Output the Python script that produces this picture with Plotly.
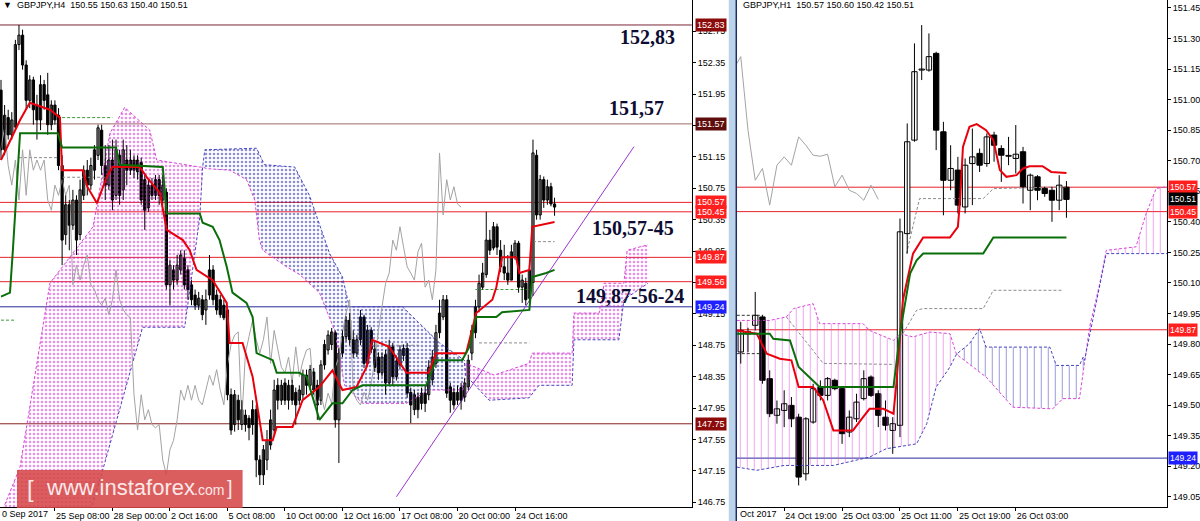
import plotly.graph_objects as go

FONT = "Liberation Sans"
SERIF = "Liberation Serif"
W, H = 1200, 521

# ---------------- H4 panel (left) ----------------
h4_open = [152.00, 151.24, 151.65, 151.43, 151.53, 152.58, 152.70, 152.32, 151.87, 152.13,
           151.81, 151.62, 152.07, 151.94, 151.56, 151.81, 151.68, 151.04, 150.16, 150.54,
           150.28, 150.60, 150.16, 150.66, 150.98, 150.79, 150.98, 151.17, 151.49, 151.04,
           150.79, 151.11, 150.66, 151.17, 150.73, 151.11, 150.98, 151.11, 150.96, 151.08,
           150.86, 150.50, 150.79, 150.66, 150.86, 150.60, 150.70, 149.52, 149.71, 149.58,
           149.71, 149.86, 149.71, 149.52, 149.39, 149.26, 149.33, 149.20, 149.39, 149.71,
           149.39, 149.33, 149.26, 149.20, 148.12, 147.74, 148.05, 147.74, 147.86, 147.82,
           147.93, 147.93, 147.29, 147.10, 147.29, 147.48, 147.67, 148.24, 148.05, 148.27,
           148.05, 148.24, 148.15, 148.05, 148.12, 148.37, 148.24, 148.41, 148.24, 148.05,
           148.50, 148.69, 148.76, 148.91, 147.80, 148.65, 148.86, 149.07, 148.82, 148.65,
           148.82, 149.11, 148.52, 148.94, 148.70, 148.60, 148.40, 148.63, 148.27, 148.73,
           148.35, 148.50, 148.62, 148.71, 148.15, 147.93, 148.09, 148.01, 148.14, 148.12,
           148.31, 148.52, 148.91, 149.11, 149.33, 148.22, 148.15, 148.05, 148.21, 148.09,
           148.22, 148.65, 148.91, 149.24, 149.49, 149.65, 150.09, 149.99, 150.26, 149.96,
           149.75, 149.67, 149.58, 149.88, 150.05, 149.49, 149.54, 149.35, 149.55, 151.17,
           150.41, 150.86, 150.60, 150.77, 150.55]
h4_high = [152.13, 151.81, 151.75, 151.72, 152.64, 152.83, 152.77, 152.38, 152.19, 152.17,
           151.94, 152.19, 152.13, 152.22, 151.87, 151.87, 151.77, 151.17, 150.66, 150.60,
           150.73, 150.66, 150.86, 151.04, 151.11, 151.14, 151.30, 151.56, 151.56, 151.30,
           151.30, 151.37, 151.37, 151.24, 151.37, 151.30, 151.24, 151.17, 151.17, 151.14,
           150.92, 150.86, 150.88, 150.92, 150.92, 150.92, 150.75, 149.84, 149.77, 149.90,
           149.96, 149.96, 149.77, 149.58, 149.46, 149.43, 149.39, 149.46, 149.90, 149.77,
           149.46, 149.39, 149.33, 149.26, 148.20, 148.18, 148.12, 148.05, 147.93, 147.86,
           148.05, 147.99, 147.35, 147.48, 147.67, 147.93, 148.31, 148.33, 148.31, 148.33,
           148.31, 148.31, 148.21, 148.24, 148.44, 148.44, 148.50, 148.46, 148.31, 148.56,
           148.82, 148.94, 148.97, 148.94, 148.72, 148.94, 149.12, 149.16, 148.94, 148.88,
           149.20, 149.14, 149.01, 148.98, 148.80, 148.66, 148.66, 148.69, 148.82, 148.78,
           148.62, 148.75, 148.76, 148.78, 148.21, 148.18, 148.15, 148.21, 148.24, 148.56,
           148.69, 149.01, 149.33, 149.39, 149.39, 148.27, 148.21, 148.24, 148.27, 148.33,
           148.63, 149.01, 149.33, 149.65, 149.80, 150.45, 150.22, 150.32, 150.30, 150.09,
           150.03, 149.90, 150.03, 150.09, 150.08, 149.65, 149.61, 149.77, 151.37, 151.24,
           150.92, 150.90, 150.86, 150.82, 150.63]
h4_low = [151.11, 151.17, 151.37, 151.37, 151.49, 152.51, 152.26, 151.75, 151.77, 151.56,
          151.37, 151.49, 151.75, 151.43, 151.49, 151.56, 150.98, 149.77, 150.03, 149.96,
          150.22, 149.90, 150.09, 150.60, 150.66, 150.73, 150.86, 151.11, 150.92, 150.60,
          150.73, 150.47, 150.60, 150.54, 150.60, 150.79, 150.92, 150.88, 150.86, 150.54,
          150.22, 150.45, 150.60, 150.60, 150.54, 150.54, 149.46, 149.26, 149.46, 149.52,
          149.65, 149.46, 149.33, 149.26, 149.20, 149.20, 149.07, 149.01, 149.33, 149.26,
          149.14, 149.10, 149.07, 148.05, 147.61, 147.65, 147.67, 147.67, 147.65, 147.54,
          147.61, 147.07, 146.97, 146.97, 147.16, 147.42, 147.61, 147.93, 147.99, 147.99,
          147.93, 147.99, 147.74, 147.99, 148.05, 148.12, 148.18, 148.12, 147.80, 147.99,
          148.44, 148.63, 148.69, 147.70, 147.25, 148.60, 148.80, 148.75, 148.59, 148.60,
          148.75, 148.46, 148.48, 148.65, 148.41, 148.31, 148.35, 148.12, 148.24, 148.24,
          148.30, 148.44, 148.55, 148.08, 147.76, 147.86, 147.82, 147.93, 147.90, 148.05,
          148.24, 148.46, 148.84, 149.07, 148.08, 147.89, 147.93, 147.99, 147.93, 148.03,
          148.18, 148.56, 148.84, 149.17, 149.46, 149.61, 149.90, 149.96, 149.90, 149.68,
          149.58, 149.52, 149.58, 149.84, 149.42, 149.29, 149.26, 149.29, 149.38, 150.35,
          150.35, 150.50, 150.54, 150.52, 150.40]
h4_close = [151.24, 151.68, 151.43, 151.62, 152.58, 152.70, 152.32, 151.87, 152.13, 151.75,
            151.62, 152.07, 151.87, 151.56, 151.81, 151.62, 151.04, 150.09, 150.54, 150.28,
            150.60, 150.09, 150.73, 150.98, 150.79, 151.04, 151.24, 151.52, 151.04, 150.79,
            151.11, 150.60, 151.24, 150.66, 151.24, 150.98, 151.11, 150.98, 151.11, 150.60,
            150.47, 150.79, 150.66, 150.86, 150.66, 150.79, 149.52, 149.77, 149.58, 149.77,
            149.90, 149.52, 149.46, 149.33, 149.26, 149.35, 149.14, 149.33, 149.71, 149.33,
            149.20, 149.14, 149.10, 148.12, 147.67, 148.12, 147.80, 147.93, 147.74, 147.70,
            147.74, 147.29, 147.10, 147.42, 147.54, 147.80, 148.18, 148.05, 148.24, 148.05,
            148.24, 148.05, 147.99, 148.18, 148.37, 148.24, 148.44, 148.18, 147.99, 148.50,
            148.76, 148.88, 148.92, 147.80, 148.65, 148.86, 149.07, 148.82, 148.65, 148.82,
            149.11, 148.52, 148.94, 148.70, 148.47, 148.40, 148.60, 148.27, 148.73, 148.35,
            148.55, 148.69, 148.71, 148.14, 147.99, 148.12, 147.93, 148.14, 148.01, 148.47,
            148.60, 148.91, 149.16, 149.33, 148.14, 148.05, 147.99, 148.15, 148.05, 148.27,
            148.56, 148.94, 149.24, 149.54, 149.67, 150.09, 149.96, 150.26, 150.00, 149.75,
            149.67, 149.58, 149.94, 150.05, 149.49, 149.58, 149.33, 149.71, 151.20, 150.41,
            150.86, 150.60, 150.77, 150.55, 150.51]

# Ichimoku lines (bar index, price)
h4_tenkan_x = [0, 5.3, 8, 13.6, 16.4, 17, 22.8, 24, 26.7, 29.4, 31, 38.6, 40.6, 44.2, 46.1, 50.6,
               52.5, 54.4, 58.9, 62.8, 63.6, 67.2, 70, 72.8, 75.6, 76.7, 81.1, 83.9, 88.6, 92.2,
               95, 98.9, 101.7, 103.3, 108, 112.8, 119, 121, 129.4, 130.3, 132.2, 136.7, 137.8,
               139.4, 143.3, 144.2, 147, 147.8, 152.5, 154]
h4_tenkan_y = [151.11, 151.62, 151.84, 151.75, 151.65, 150.98, 150.98, 150.77, 150.56, 150.89,
               151.02, 151.02, 150.89, 150.69, 150.22, 150.09, 149.96, 149.71, 149.58, 149.29,
               148.78, 148.78, 148.35, 147.54, 147.54, 147.71, 147.71, 148.05, 148.22, 148.43,
               148.18, 148.22, 148.47, 148.82, 148.73, 148.40, 148.40, 148.65, 148.65, 148.82,
               149.16, 149.33, 149.49, 149.87, 149.87, 149.67, 149.71, 150.26, 150.31, 150.32]
h4_kijun_x = [0, 2.5, 3.3, 5.3, 15.8, 17, 32, 33, 45, 46.1, 55.3, 56.1, 58.9, 60.8, 62.8, 64.4,
              68.3, 70, 71.1, 75.6, 76.7, 83, 85, 88.6, 92.2, 95, 97.8, 100.6, 118.3, 121,
              128.3, 130.3, 132.2, 137.8, 139.4, 147, 147.8, 151.7, 154]
h4_kijun_y = [149.37, 149.42, 149.96, 151.45, 151.45, 151.27, 151.27, 151.05, 151.02, 150.43,
              150.43, 150.31, 150.26, 150.09, 149.75, 149.42, 149.29, 149.11, 148.65, 148.56,
              148.40, 148.40, 148.35, 147.80, 148.01, 148.01, 148.18, 148.24, 148.24, 148.56,
              148.56, 148.73, 149.11, 149.11, 149.17, 149.20, 149.62, 149.67, 149.71]
h4_spanA_x = [0, 5.3, 13.6, 25.6, 30.3, 34.4, 41.4, 43.3, 55.3, 56.1, 57.2, 63.6, 68.3, 70.6,
              71.9, 72.8, 79.4, 83.1, 88.6, 92.8, 95.6, 100.6, 112.8, 119, 128.5, 129.2, 129.4,
              137.2, 146.9, 147.8, 158.9, 159.4, 166.4, 167.8, 173.3, 174.2, 180]
h4_spanA_y = [146.60, 147.20, 149.54, 150.26, 151.45, 151.78, 151.49, 151.11, 151.02, 151.02,
              151.00, 150.98, 150.86, 150.60, 150.09, 149.96, 149.75, 149.65, 149.42, 148.94,
              148.24, 148.01, 148.01, 148.18, 148.18, 148.37, 148.52, 148.37, 148.52, 148.65,
              148.65, 149.16, 149.16, 149.54, 149.54, 149.96, 150.03]
h4_spanB_x = [0, 24, 28.3, 39.4, 51.1, 55.3, 56.1, 56.7, 71.1, 73.3, 81.7, 85.8, 91.4, 95, 96.9,
              111.7, 122, 128.9, 129.2, 135.8, 146.9, 149.7, 158.9, 159.4, 171.9, 173.3, 180]
h4_spanB_y = [146.30, 146.50, 147.16, 148.98, 148.98, 150.38, 151.02, 151.24, 151.26, 151.05,
              151.02, 150.66, 149.92, 149.62, 149.24, 149.24, 148.78, 148.56, 148.37, 148.05,
              148.08, 148.24, 148.24, 148.82, 148.82, 149.33, 149.54]
h4_cloud_cross = [56.1, 129.2]
h4_gdash_x = [0, 4, None, 17, 31, None, 132, 147]
h4_gdash_y = [149.07, 149.07, None, 151.65, 151.65, None, 149.46, 149.46]
h4_kdash_x = [5, 16, None, 17, 30, None, 103, 117, None, 133, 147, None, 148, 154]
h4_kdash_y = [151.14, 151.14, None, 150.89, 150.89, None, 148.75, 148.75, None, 148.78, 148.78,
              None, 150.07, 150.07]
h4_trend_x = [110, 176.1]
h4_trend_y = [146.82, 151.28]
h4_levels = [152.83, 151.57, 150.57, 150.45, 149.87, 149.56, 149.24, 147.75]
h4_level_line = ['#7c2436', '#a06a6a', '#e8202a', '#e8202a', '#e8202a', '#e8202a', '#2a2a9c', '#8a2424']
h4_level_box = ['#8b0a0a', '#5e0c0c', '#ff1f1f', '#ff1f1f', '#ff1f1f', '#ff1f1f', '#1f1fff', '#8b0a0a']
h4_price_ticks = [153.15, 152.75, 152.35, 151.95, 151.55, 151.15, 150.75, 150.35, 149.95, 149.55,
                  149.15, 148.75, 148.35, 147.95, 147.55, 147.15, 146.75]
h4_tick_bars = [15, 31, 47, 63, 79, 95, 111, 127, 143]
h4_tick_text = ["25 Sep 08:00", "28 Sep 00:00", "2 Oct 16:00", "5 Oct 08:00", "10 Oct 00:00",
                "12 Oct 16:00", "17 Oct 08:00", "20 Oct 00:00", "24 Oct 16:00"]
h4_notes = ["152,83", "151,57", "150,57-45", "149,87-56-24"]

# ---------------- H1 panel (right) ----------------
h1_open = [149.761, 149.86, 149.892, 149.933, 149.63, 149.45, 149.474, 149.499, 149.441, 149.163,
           149.417, 149.589, 149.548, 149.622, 149.581, 149.368, 149.433, 149.532, 149.638, 149.556,
           149.441, 149.376, 149.401, 150.342, 150.801, 151.145, 151.145, 151.227, 150.842, 150.604,
           150.654, 150.473, 150.686, 150.736, 150.686, 150.826, 150.76, 150.722, 150.711, 150.744,
           150.555, 150.621, 150.564, 150.555, 150.506, 150.57]
h1_high = [149.908, 149.88, 150.056, 149.941, 149.671, 149.523, 149.573, 149.54, 149.458, 149.441,
           149.605, 149.622, 149.638, 149.63, 149.589, 149.474, 149.556, 149.671, 149.646, 149.573,
           149.523, 149.441, 150.416, 150.883, 151.276, 151.366, 151.325, 151.235, 150.891, 150.776,
           150.719, 150.711, 150.858, 150.76, 150.834, 150.842, 150.776, 150.817, 150.875, 150.768,
           150.637, 150.629, 150.572, 150.572, 150.629, 150.60]
h1_low = [149.704, 149.76, 149.867, 149.605, 149.441, 149.409, 149.392, 149.392, 149.106, 149.13,
          149.409, 149.523, 149.523, 149.573, 149.31, 149.343, 149.417, 149.523, 149.54, 149.392,
          149.376, 149.261, 149.343, 150.244, 150.793, 151.096, 151.137, 150.752, 150.432, 150.555,
          150.441, 150.441, 150.482, 150.645, 150.67, 150.695, 150.596, 150.678, 150.637, 150.49,
          150.457, 150.506, 150.523, 150.40, 150.457, 150.42]
h1_close = [149.867, 149.85, 149.941, 149.622, 149.458, 149.482, 149.507, 149.433, 149.147, 149.433,
            149.581, 149.548, 149.63, 149.581, 149.36, 149.441, 149.515, 149.63, 149.548, 149.45,
            149.401, 149.409, 150.351, 150.793, 151.137, 151.15, 151.211, 150.85, 150.604, 150.662,
            150.482, 150.678, 150.719, 150.678, 150.817, 150.776, 150.727, 150.722, 150.732, 150.572,
            150.629, 150.555, 150.539, 150.506, 150.58, 150.51]
h1_tenkan_x = [-0.55, 2.2, 3.6, 5.4, 7.0, 8.0, 10.0, 11.4, 12.8, 15.5, 16.9, 17.8, 19.7, 21.1, 21.5,
               22.4, 23.8, 25.2, 28.9, 30.0, 30.3, 30.7, 31.6, 32.6, 33.9, 34.9, 35.8, 36.7, 38.1,
               39.0, 39.9, 41.7, 42.9, 45.0]
h1_tenkan_y = [149.867, 149.851, 149.753, 149.728, 149.72, 149.589, 149.589, 149.523, 149.376,
               149.376, 149.441, 149.482, 149.482, 149.458, 149.605, 150.015, 150.244, 150.323,
               150.323, 150.375, 150.506, 150.768, 150.867, 150.88, 150.85, 150.801, 150.654,
               150.621, 150.629, 150.662, 150.673, 150.673, 150.645, 150.64]
h1_kijun_x = [-0.55, 4.0, 4.5, 6.8, 8.0, 10.9, 21.1, 22.0, 23.4, 24.3, 25.2, 33.5, 34.9, 45.0]
h1_kijun_y = [149.851, 149.851, 149.826, 149.818, 149.687, 149.589, 149.589, 149.851, 150.146,
              150.211, 150.244, 150.244, 150.323, 150.323]
h1_spanA_x = [-0.55, 4.0, 6.3, 7.3, 10.0, 10.9, 16.9, 17.8, 21.1, 22.0, 23.8, 26.1, 28.9, 29.8,
              33.9, 37.6, 43.1, 44.5, 46.8, 47.5, 48.2, 49.6, 50.5, 54.6, 56.0, 57.4, 58.9]
h1_spanA_y = [149.916, 149.916, 149.933, 149.974, 149.998, 149.90, 149.90, 149.867, 149.818,
              149.851, 149.835, 149.859, 149.851, 149.75, 149.638, 149.49, 149.482, 149.532,
              149.532, 149.72, 149.884, 150.097, 150.26, 150.277, 150.44, 150.564, 150.572]
h1_spanB_x = [-0.55, 2.2, 6.0, 12.8, 17.8, 20.1, 24.3, 25.7, 27.0, 28.9, 29.8, 31.6, 33.0, 33.9,
              42.7, 43.6, 46.8, 47.3, 47.5, 50.5, 58.9]
h1_spanB_y = [149.196, 149.18, 149.204, 149.204, 149.245, 149.286, 149.31, 149.409, 149.589,
              149.687, 149.75, 149.802, 149.875, 149.785, 149.785, 149.695, 149.695, 149.736,
              149.72, 150.244, 150.244]
h1_cloud_cross = [29.8, 47.5]
h1_dash1_x = [22.9, 24.7, 33.5, 34.9, 45.0]
h1_dash1_y = [150.244, 150.514, 150.514, 150.563, 150.572]
h1_dash2_x = [22.4, 24.3, 25.2, 33.5, 34.9, 44.5, None, 6.3, 11.4, 21.1]
h1_dash2_y = [149.851, 149.966, 149.974, 149.974, 150.064, 150.064, None, 149.933, 149.705, 149.70]
h1_dash3_x = [-0.55, 3.1, None, -0.55, 3.1]
h1_dash3_y = [149.941, 149.941, None, 149.753, 149.753]
h1_levels = [150.57, 150.45, 149.87, 149.24]
h1_level_line = ['#e8202a', '#e8202a', '#e8202a', '#2a2a9c']
h1_level_box = ['#ff1f1f', '#ff1f1f', '#ff1f1f', '#1f1fff']
h1_last = 150.51
h1_price_ticks = [151.45, 151.30, 151.15, 151.00, 150.85, 150.70, 150.55, 150.40, 150.25, 150.10,
                  149.95, 149.80, 149.65, 149.50, 149.35, 149.20, 149.05]
h1_tick_bars = [6, 14, 22, 30, 38]
h1_tick_text = ["24 Oct 19:00", "25 Oct 03:00", "25 Oct 11:00", "25 Oct 19:00", "26 Oct 03:00"]
CHIKOU_SHIFT = 26

# ---------------- helpers ----------------
fig = go.Figure()


def line(x, y, xa, ya, color, width=1, dash=None):
    fig.add_trace(go.Scatter(x=x, y=y, mode='lines', xaxis=xa, yaxis=ya, hoverinfo='skip',
                             line=dict(color=color, width=width, dash=dash), connectgaps=False))


def cloud(ax, ay, bx, by, cross, xa, ya, pink, blue, shape, size, solidity):
    edges = [min(ax[0], bx[0])] + list(cross) + [max(ax[-1], bx[-1])]
    for k in range(len(edges) - 1):
        lo, hi = edges[k], edges[k + 1]
        sa = [(x, y) for x, y in zip(ax, ay) if lo <= x <= hi]
        sb = [(x, y) for x, y in zip(bx, by) if lo <= x <= hi]
        a_top = sum(p[1] for p in sa) / len(sa) > sum(p[1] for p in sb) / len(sb)
        lower, upper = (sb, sa) if a_top else (sa, sb)
        fig.add_trace(go.Scatter(x=[p[0] for p in lower], y=[p[1] for p in lower], mode='lines',
                                 line=dict(width=0, color='rgba(0,0,0,0)'), xaxis=xa, yaxis=ya,
                                 hoverinfo='skip'))
        fig.add_trace(go.Scatter(x=[p[0] for p in upper], y=[p[1] for p in upper], mode='lines',
                                 line=dict(width=0, color='rgba(0,0,0,0)'), xaxis=xa, yaxis=ya,
                                 fill='tonexty', fillcolor='rgba(0,0,0,0)', hoverinfo='skip',
                                 fillpattern=dict(shape=shape, fgcolor=pink if a_top else blue,
                                                  bgcolor='rgba(0,0,0,0)', size=size,
                                                  solidity=solidity)))
    line(ax, ay, xa, ya, '#d846d8', 1, '3px,2px')
    line(bx, by, xa, ya, '#4646c0', 1, '3px,2px')


def candles(o, h, l, c, xa, ya, width):
    wx, wy = [], []
    ux, ub, uh, dx, db, dh = [], [], [], [], [], []
    for i, (oo, hh, ll, cc) in enumerate(zip(o, h, l, c)):
        wx += [i, i, None]
        wy += [ll, hh, None]
        if cc >= oo:
            ux.append(i); ub.append(oo); uh.append(max(cc - oo, 0.004))
        else:
            dx.append(i); db.append(cc); dh.append(oo - cc)
    line(wx, wy, xa, ya, 'black', 1)
    fig.add_trace(go.Bar(x=ux, y=uh, base=ub, width=width, xaxis=xa, yaxis=ya, hoverinfo='skip',
                         marker=dict(color='white', line=dict(color='black', width=1))))
    fig.add_trace(go.Bar(x=dx, y=dh, base=db, width=width, xaxis=xa, yaxis=ya, hoverinfo='skip',
                         marker=dict(color='black', line=dict(color='black', width=1))))


# ---------------- left panel ----------------
cloud(h4_spanA_x, h4_spanA_y, h4_spanB_x, h4_spanB_y, h4_cloud_cross, 'x', 'y',
      '#d21fd2', '#1c1ca8', '.', 4, 0.33)
line(h4_gdash_x, h4_gdash_y, 'x', 'y', '#3c9a3c', 1, '3px,2px')
line(h4_kdash_x, h4_kdash_y, 'x', 'y', '#8c8c8c', 1, '3px,2px')
line([i - CHIKOU_SHIFT for i in range(len(h4_close))], h4_close, 'x', 'y', '#a3a3a3', 1)
line(h4_trend_x, h4_trend_y, 'x', 'y', '#9b35d0', 1)
candles(h4_open, h4_high, h4_low, h4_close, 'x', 'y', 0.62)
line(h4_tenkan_x, h4_tenkan_y, 'x', 'y', '#e8000c', 2)
line(h4_kijun_x, h4_kijun_y, 'x', 'y', '#0a6e0a', 2)

# ---------------- right panel ----------------
cloud(h1_spanA_x, h1_spanA_y, h1_spanB_x, h1_spanB_y, h1_cloud_cross, 'x2', 'y2',
      '#e050e0', '#3434b4', '|', 7, 0.15)
line(h1_dash1_x, h1_dash1_y, 'x2', 'y2', '#8c8c8c', 1, '3px,2px')
line(h1_dash2_x, h1_dash2_y, 'x2', 'y2', '#8c8c8c', 1, '3px,2px')
line(h1_dash3_x, h1_dash3_y, 'x2', 'y2', '#333333', 1, '3px,2px')
line([i - CHIKOU_SHIFT for i in range(len(h1_close))], h1_close, 'x2', 'y2', '#a3a3a3', 1)
candles(h1_open, h1_high, h1_low, h1_close, 'x2', 'y2', 0.74)
line(h1_tenkan_x, h1_tenkan_y, 'x2', 'y2', '#e8000c', 2)
line(h1_kijun_x, h1_kijun_y, 'x2', 'y2', '#0a6e0a', 2)

# ---------------- levels, labels ----------------
shapes = []
ann = []
for v, lc, bc in zip(h4_levels, h4_level_line, h4_level_box):
    shapes.append(dict(type='line', xref='x domain', yref='y', x0=0, x1=1, y0=v, y1=v,
                       line=dict(color=lc, width=1), layer='below'))
    ann.append(dict(xref='paper', yref='y', x=696 / W, y=v, xanchor='left', yanchor='middle',
                    text=f"{v:.2f}", showarrow=False, bgcolor=bc, borderpad=1,
                    font=dict(family=FONT, size=9, color='white')))
for v, lc, bc in zip(h1_levels, h1_level_line, h1_level_box):
    shapes.append(dict(type='line', xref='x2 domain', yref='y2', x0=0, x1=1, y0=v, y1=v,
                       line=dict(color=lc, width=1), layer='below'))
    ann.append(dict(xref='paper', yref='y2', x=1170 / W, y=v, xanchor='left', yanchor='middle',
                    text=f"{v:.2f}", showarrow=False, bgcolor=bc, borderpad=1,
                    font=dict(family=FONT, size=8.5, color='white')))
ann.append(dict(xref='paper', yref='y2', x=1170 / W, y=h1_last, xanchor='left', yanchor='middle',
                text=f"{h1_last:.2f}", showarrow=False, bgcolor='#000000', borderpad=1,
                font=dict(family=FONT, size=8.5, color='white')))

# separator between the two windows
shapes.append(dict(type='rect', xref='paper', yref='paper', x0=730 / W, x1=737 / W, y0=0, y1=1,
                   fillcolor='#bcd3ec', line=dict(width=0)))
shapes.append(dict(type='line', xref='paper', yref='paper', x0=737.5 / W, x1=737.5 / W, y0=0, y1=1,
                   line=dict(color='#1c2c66', width=1.5)))
# watermark box
shapes.append(dict(type='rect', xref='paper', yref='paper', x0=17 / W, x1=243 / W,
                   y0=1 - 508 / H, y1=1 - 470 / H, fillcolor='rgba(214,72,72,0.88)',
                   line=dict(width=0)))

# header texts
ann.append(dict(xref='paper', yref='paper', x=1 / W, y=1 - 5 / H, xanchor='left', yanchor='middle',
                text="▼  GBPJPY,H4  150.55 150.63 150.40 150.51", showarrow=False,
                font=dict(family=FONT, size=9, color='black')))
ann.append(dict(xref='paper', yref='paper', x=742 / W, y=1 - 5 / H, xanchor='left', yanchor='middle',
                text="GBPJPY,H1  150.57 150.60 150.42 150.51", showarrow=False,
                font=dict(family=FONT, size=9, color='black')))
# clipped first date labels
ann.append(dict(xref='paper', yref='paper', x=0, y=1 - 514 / H, xanchor='left', yanchor='middle',
                text="0 Sep 2017", showarrow=False, font=dict(family=FONT, size=9, color='black')))
ann.append(dict(xref='paper', yref='paper', x=739 / W, y=1 - 514 / H, xanchor='left', yanchor='middle',
                text="Oct 2017", showarrow=False, font=dict(family=FONT, size=9, color='black')))
# big level notes
for txt, (cx, cy) in zip(h4_notes, [(649, 37), (638, 108), (634, 228), (631, 296)]):
    ann.append(dict(xref='paper', yref='paper', x=cx / W, y=1 - cy / H, xanchor='center',
                    yanchor='middle', text=f"<b>{txt}</b>", showarrow=False,
                    font=dict(family=SERIF, size=20, color='#0d0d33')))
# watermark text
ann.append(dict(xref='paper', yref='paper', x=31 / W, y=1 - 488 / H, xanchor='center',
                yanchor='middle', text="[", showarrow=False,
                font=dict(family=FONT, size=24, color='#fbe9e9')))
ann.append(dict(xref='paper', yref='paper', x=44 / W, y=1 - 487 / H, xanchor='left',
                yanchor='middle', text="www.instaforex", showarrow=False,
                font=dict(family=FONT, size=22, color='#fbe9e9')))
ann.append(dict(xref='paper', yref='paper', x=192 / W, y=1 - 490 / H, xanchor='left',
                yanchor='middle', text=".com", showarrow=False,
                font=dict(family=FONT, size=14, color='#fbe9e9')))
ann.append(dict(xref='paper', yref='paper', x=230 / W, y=1 - 488 / H, xanchor='center',
                yanchor='middle', text="]", showarrow=False,
                font=dict(family=FONT, size=20, color='#fbe9e9')))

axis_common = dict(showgrid=False, zeroline=False, showline=True, linecolor='black', linewidth=1,
                   ticks='outside', ticklen=3, tickcolor='black',
                   tickfont=dict(family=FONT, size=9, color='black'))
ydom = [(H - 507) / H, 1]

fig.update_layout(
    width=W, height=H, autosize=False, margin=dict(l=0, r=0, t=0, b=0),
    paper_bgcolor='white', plot_bgcolor='white', showlegend=False, hovermode=False,
    barmode='overlay', shapes=shapes, annotations=ann,
    xaxis=dict(domain=[0, 693 / W], range=[-0.28, 192.2], anchor='y', tickmode='array',
               tickvals=h4_tick_bars, ticktext=h4_tick_text, ticklabelposition='outside right',
               tickangle=0, **axis_common),
    yaxis=dict(domain=ydom, range=[146.69, 153.148], side='right', anchor='x', tickmode='array',
               tickvals=h4_price_ticks, ticktext=[f"{v:.2f}" for v in h4_price_ticks],
               **axis_common),
    xaxis2=dict(domain=[738 / W, 1169 / W], range=[-0.55, 58.9], anchor='y2', tickmode='array',
                tickvals=h1_tick_bars, ticktext=h1_tick_text, ticklabelposition='outside right',
                tickangle=0, **axis_common),
    yaxis2=dict(domain=ydom, range=[149.0, 151.489], side='right', anchor='x2', tickmode='array',
                tickvals=h1_price_ticks, ticktext=[f"{v:.2f}" for v in h1_price_ticks],
                **axis_common),
)

fig.write_html("out.html", config={'displayModeBar': False, 'staticPlot': True},
               post_script="document.body.style.margin='0px';document.body.style.overflow='hidden';")
